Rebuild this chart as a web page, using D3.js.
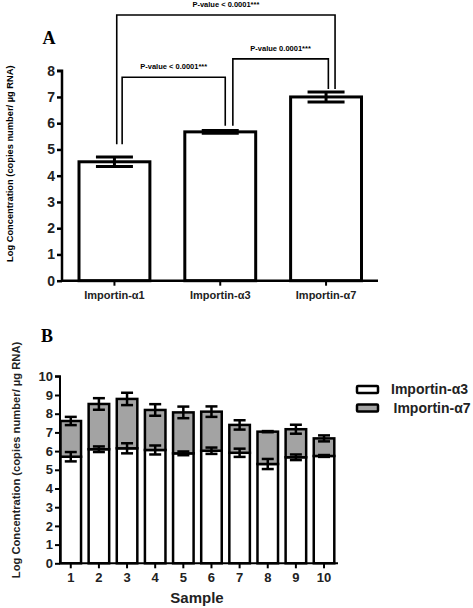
<!DOCTYPE html>
<html><head><meta charset="utf-8">
<script src="https://cdn.jsdelivr.net/npm/d3@7"></script>
<style>body{margin:0;background:#fff}svg{display:block}</style>
</head><body>
<svg id="c" width="473" height="608"></svg>
<script>
// Panel A data
const catsA = ["Importin-α1", "Importin-α3", "Importin-α7"];
const meansA = [4.53, 5.67, 7.00];
const errA = [0.18, 0.05, 0.19];
const ticksA = [0, 1, 2, 3, 4, 5, 6, 7, 8];
const pLabels = ["P-value < 0.0001***", "P-value < 0.0001***", "P-value 0.0001***"];

// Panel B data
const samples = ["1", "2", "3", "4", "5", "6", "7", "8", "9", "10"];
const alpha3 = [5.70, 6.10, 6.15, 6.06, 5.88, 6.02, 5.91, 5.31, 5.67, 5.74];
const alpha3Err = [0.25, 0.15, 0.27, 0.24, 0.10, 0.17, 0.22, 0.27, 0.15, 0.05];
const alpha7 = [1.91, 2.42, 2.64, 2.14, 2.19, 2.09, 1.49, 1.73, 1.50, 0.94];
const alpha7Err = [0.22, 0.31, 0.33, 0.31, 0.31, 0.28, 0.25, 0.03, 0.24, 0.16];
const ticksB = [0, 1, 2, 3, 4, 5, 6, 7, 8, 9, 10];
const legendB = ["Importin-α3", "Importin-α7"];

const svg = d3.select("#c");
const F = "Liberation Sans, Arial, sans-serif";

// ---------- Panel A ----------
const xA = d3.scaleBand().domain(catsA).range([79, 361.5]).paddingInner(0.33).paddingOuter(0);
const yA = d3.scaleLinear().domain([0, 8]).range([280.7, 70.7]);
const gA = svg.append("g");

svg.append("text").attr("x", 49).attr("y", 44).attr("text-anchor", "middle")
  .attr("font-family", "Liberation Serif, Times New Roman, serif").attr("font-weight", "bold")
  .attr("font-size", 18).text("A");

gA.selectAll("rect.bar").data(catsA).join("rect").attr("class", "bar")
  .attr("x", d => xA(d)).attr("width", xA.bandwidth())
  .attr("y", (d, i) => yA(meansA[i])).attr("height", (d, i) => yA(0) - yA(meansA[i]))
  .attr("fill", "#fff").attr("stroke", "#000").attr("stroke-width", 3);

// error bars A
catsA.forEach((c, i) => {
  const cx = xA(c) + xA.bandwidth() / 2;
  const g = gA.append("g").attr("stroke", "#000").attr("stroke-width", 3);
  g.append("line").attr("x1", cx).attr("x2", cx).attr("y1", yA(meansA[i] + errA[i])).attr("y2", yA(meansA[i] - errA[i]));
  [meansA[i] + errA[i], meansA[i] - errA[i]].forEach(v =>
    g.append("line").attr("x1", cx - 18.5).attr("x2", cx + 18.5).attr("y1", yA(v)).attr("y2", yA(v)));
});

// axes A
const axYA = d3.axisLeft(yA).tickValues(ticksA).tickSize(5).tickPadding(2);
const gy = gA.append("g").attr("transform", "translate(62,0)").call(axYA);
gy.select(".domain").attr("stroke-width", 2.5).attr("d", `M-5,${yA(8)}H0V${yA(0)}`);
gy.selectAll(".tick line").attr("stroke-width", 2.5);
gy.selectAll("text").attr("font-family", F).attr("font-weight", "bold").attr("font-size", 14).attr("fill", "#222");

const axXA = d3.axisBottom(xA).tickSize(5).tickSizeOuter(0).tickPadding(6);
const gx = gA.append("g").attr("transform", `translate(0,${yA(0)})`).call(axXA);
gx.select(".domain").attr("stroke-width", 2.5).attr("d", "M62,0H378");
gx.selectAll(".tick line").attr("stroke-width", 2);
gx.selectAll("text").attr("font-family", F).attr("font-weight", "bold").attr("font-size", 11).attr("fill", "#222");

gA.append("text").attr("transform", `translate(13,${(yA(0) + yA(8)) / 2 - 12}) rotate(-90)`)
  .attr("text-anchor", "middle").attr("font-family", F).attr("font-size", 9.3).attr("font-weight", "600")
  .text("Log Concentration (copies number/ µg RNA)");

// brackets: [catLeft, offsetLeft, legBottomLeft, catRight, offsetRight, legBottomRight, topValue, label]
const cxA = c => xA(c) + xA.bandwidth() / 2;
const brackets = [
  [0, 2.3, 5.2, 2, 9, 7.3, 10.12, pLabels[0]],
  [0, 7.7, 5.2, 1, 5, 5.9, 7.75, pLabels[1]],
  [1, 12.6, 5.9, 2, 2.3, 7.3, 8.45, pLabels[2]]
];
brackets.forEach(b => {
  const x1 = cxA(catsA[b[0]]) + b[1], x2 = cxA(catsA[b[3]]) + b[4];
  const yt = yA(b[6]);
  gA.append("path").attr("d", `M${x1},${yA(b[2])}V${yt}H${x2}V${yA(b[5])}`)
    .attr("fill", "none").attr("stroke", "#000").attr("stroke-width", 1.6);
  gA.append("text").attr("x", (x1 + x2) / 2).attr("y", yt - 8).attr("text-anchor", "middle")
    .attr("font-family", F).attr("font-weight", "bold").attr("font-size", 7.5).text(b[7]);
});

// ---------- Panel B ----------
const xB = d3.scaleBand().domain(samples).range([60.5, 334.3]).paddingInner(0.27).paddingOuter(0);
const yB = d3.scaleLinear().domain([0, 10]).range([563.3, 376.3]);
const gB = svg.append("g");

svg.append("text").attr("x", 47).attr("y", 342).attr("text-anchor", "middle")
  .attr("font-family", "Liberation Serif, Times New Roman, serif").attr("font-weight", "bold")
  .attr("font-size", 18).text("B");

const stack = samples.map((s, i) => ({ s, a3: alpha3[i], a7: alpha7[i], e3: alpha3Err[i], e7: alpha7Err[i] }));

gB.selectAll("rect.a3").data(stack).join("rect").attr("class", "a3")
  .attr("x", d => xB(d.s)).attr("width", xB.bandwidth())
  .attr("y", d => yB(d.a3)).attr("height", d => yB(0) - yB(d.a3))
  .attr("fill", "#fff").attr("stroke", "#000").attr("stroke-width", 2.5);
gB.selectAll("rect.a7").data(stack).join("rect").attr("class", "a7")
  .attr("x", d => xB(d.s)).attr("width", xB.bandwidth())
  .attr("y", d => yB(d.a3 + d.a7)).attr("height", d => yB(d.a3) - yB(d.a3 + d.a7))
  .attr("fill", "#a3a3a3").attr("stroke", "#000").attr("stroke-width", 2.5);

stack.forEach(d => {
  const cx = xB(d.s) + xB.bandwidth() / 2;
  [[d.a3, d.e3], [d.a3 + d.a7, d.e7]].forEach(([v, e]) => {
    const g = gB.append("g").attr("stroke", "#000").attr("stroke-width", 2.5);
    g.append("line").attr("x1", cx).attr("x2", cx).attr("y1", yB(v + e)).attr("y2", yB(v - e));
    [v + e, v - e].forEach(t => g.append("line").attr("x1", cx - 6).attr("x2", cx + 6).attr("y1", yB(t)).attr("y2", yB(t)));
  });
});

const axYB = d3.axisLeft(yB).tickValues(ticksB).tickSize(5).tickPadding(2);
const gyb = gB.append("g").attr("transform", "translate(60,0)").call(axYB);
gyb.select(".domain").attr("stroke-width", 2).attr("d", `M-5,${yB(10)}H0V${yB(0)}`);
gyb.selectAll(".tick line").attr("stroke-width", 2);
gyb.selectAll("text").attr("font-family", F).attr("font-weight", "bold").attr("font-size", 13).attr("fill", "#222");

const axXB = d3.axisBottom(xB).tickSize(5).tickSizeOuter(0).tickPadding(4);
const gxb = gB.append("g").attr("transform", `translate(0,${yB(0)})`).call(axXB);
gxb.select(".domain").attr("stroke-width", 2).attr("d", "M60,0H338");
gxb.selectAll(".tick line").attr("stroke-width", 2);
gxb.selectAll("text").attr("font-family", F).attr("font-weight", "bold").attr("font-size", 13).attr("fill", "#222");

gB.append("text").attr("x", 197).attr("y", 603).attr("text-anchor", "middle")
  .attr("font-family", F).attr("font-weight", "bold").attr("font-size", 15).attr("fill", "#222").text("Sample");

gB.append("text").attr("transform", "translate(19.5,460) rotate(-90)")
  .attr("text-anchor", "middle").attr("font-family", F).attr("font-size", 11.2).attr("font-weight", "bold").attr("fill", "#222")
  .text("Log Concentration (copies number/ µg RNA)");

// legend
const lg = gB.append("g");
legendB.forEach((t, i) => {
  const y0 = 386 + i * 18.5;
  lg.append("rect").attr("x", 357).attr("y", y0).attr("width", 21).attr("height", 7)
    .attr("fill", i ? "#a3a3a3" : "#fff").attr("stroke", "#000").attr("stroke-width", 2.5).attr("rx", 1);
  lg.append("text").attr("x", 391 + i * 2.5).attr("y", y0 + 8).attr("font-family", F)
    .attr("font-weight", "bold").attr("font-size", 14).attr("fill", "#222").text(t);
});
</script>
</body></html>
